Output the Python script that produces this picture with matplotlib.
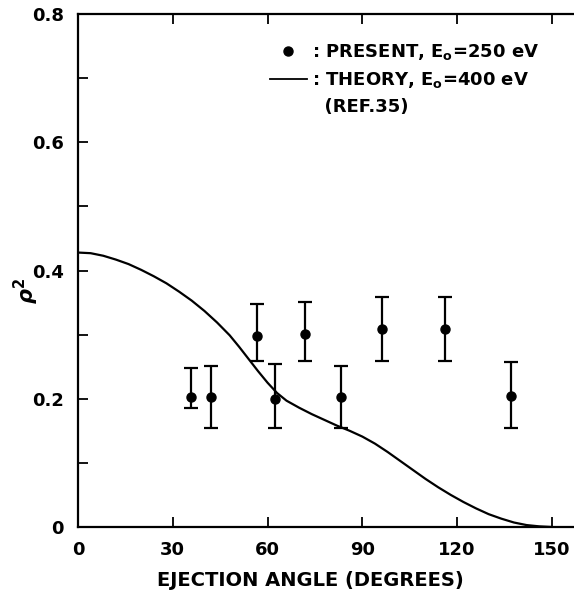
import matplotlib
matplotlib.use("Agg")
import matplotlib.pyplot as plt
from matplotlib.lines import Line2D
from matplotlib.ticker import MultipleLocator

# measured points (present work, E0 = 250 eV)
angle = [35.7, 42.0, 56.6, 62.3, 71.8, 83.1, 96.1, 116.3, 137.2]
rho2 = [0.202, 0.202, 0.298, 0.200, 0.301, 0.202, 0.309, 0.309, 0.205]
err_hi = [0.248, 0.251, 0.348, 0.254, 0.351, 0.251, 0.359, 0.359, 0.257]
err_lo = [0.185, 0.155, 0.259, 0.155, 0.259, 0.155, 0.259, 0.259, 0.155]

# theory curve (E0 = 400 eV, ref. 35)
th_angle = [0, 4, 8, 12, 16, 20, 24, 28, 32, 36, 40, 44, 48, 51, 54, 57,
            60, 63, 66, 70, 74, 78, 82, 86, 90, 94, 98, 102, 106, 110, 114,
            118, 122, 126, 130, 134, 138, 142, 146, 150]
th_rho2 = [0.428, 0.427, 0.423, 0.417, 0.410, 0.401, 0.391, 0.380, 0.367,
           0.353, 0.337, 0.319, 0.299, 0.281, 0.262, 0.243, 0.225, 0.209,
           0.197, 0.186, 0.176, 0.167, 0.158, 0.150, 0.141, 0.130, 0.117,
           0.103, 0.089, 0.075, 0.062, 0.050, 0.039, 0.029, 0.020, 0.013,
           0.007, 0.003, 0.001, 0.0]

x_ticks = [0, 30, 60, 90, 120, 150]
y_ticks = [0, 0.2, 0.4, 0.6, 0.8]
y_labels = ["0", "0.2", "0.4", "0.6", "0.8"]

plt.rcParams["font.family"] = ["DejaVu Sans"]
plt.rcParams["font.weight"] = "bold"

fig = plt.figure(figsize=(5.74, 5.94), dpi=100)
ax = fig.add_axes([78 / 574, 1 - 527 / 594, 1 - 78 / 574, (527 - 14) / 594])

lo = [r - l for r, l in zip(rho2, err_lo)]
hi = [h - r for r, h in zip(rho2, err_hi)]
ax.errorbar(angle, rho2, yerr=[lo, hi], fmt="o", color="black", ms=6.5,
            elinewidth=1.6, capsize=5, capthick=1.6)
ax.plot(th_angle, th_rho2, color="black", lw=1.6)

ax.set_xlim(0, 157)
ax.set_ylim(0, 0.8)
ax.set_xticks(x_ticks)
ax.set_xticklabels([str(t) for t in x_ticks])
ax.set_yticks(y_ticks)
ax.set_yticklabels(y_labels)
ax.yaxis.set_minor_locator(MultipleLocator(0.1))
ax.tick_params(which="both", direction="in", length=7, width=1.3,
               top=True, labelsize=13, pad=10)
ax.tick_params(axis="y", which="minor", length=7)
for s in ["left", "bottom", "top"]:
    ax.spines[s].set_linewidth(1.6)
ax.spines["right"].set_visible(False)

ax.set_xlabel("EJECTION ANGLE (DEGREES)", fontsize=14, fontweight="bold")
ax.xaxis.set_label_coords(0.468, -0.085)
ax.set_ylabel(r"$\rho^2$", fontsize=15)
ax.yaxis.set_label_coords(-0.075, 0.46)

handles = [Line2D([], [], marker="o", ls="none", color="black", ms=6.5),
           Line2D([], [], color="black", lw=1.3),
           Line2D([], [], ls="none")]
labels = [r": PRESENT, E$_\mathrm{o}$=250 eV",
          r": THEORY, E$_\mathrm{o}$=400 eV",
          "  (REF.35)"]
ax.legend(handles, labels, loc="upper right", frameon=False, fontsize=13,
          handlelength=2.0, handletextpad=0.3, borderaxespad=0.3,
          labelspacing=0.45, bbox_to_anchor=(0.955, 0.97))

fig.savefig("out.png", dpi=100)
